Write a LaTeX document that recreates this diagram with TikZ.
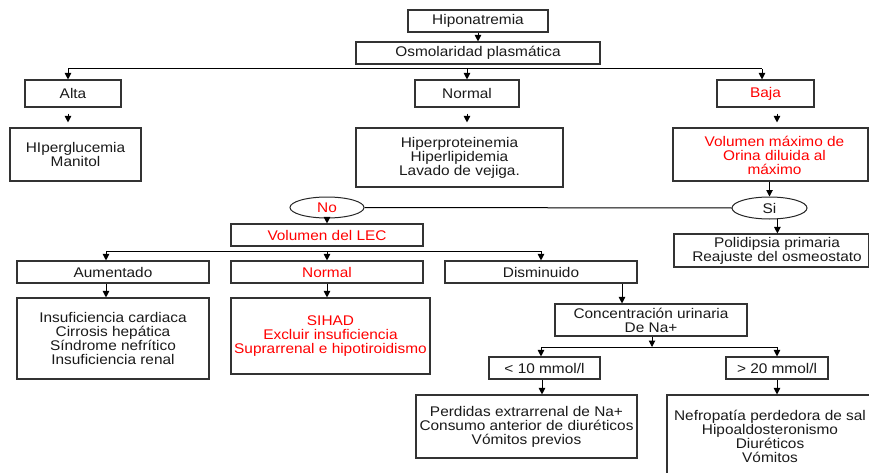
\documentclass[tikz,border=0pt]{standalone}
\usepackage{fontspec}
\setmainfont{Liberation Sans}[FakeStretch=1.1]
\usetikzlibrary{arrows.meta,shapes.geometric}
\definecolor{ink}{HTML}{1A1A1A}
\definecolor{alert}{HTML}{FF0000}
\begin{document}
\begin{tikzpicture}[x=1pt,y=-1pt,
  every node/.style={font=\fontsize{14}{14}\selectfont, text=ink},
  box/.style={draw=black!80, line width=1.1pt, rectangle, inner sep=0pt, align=center},
  oval/.style={draw=black!85, line width=1pt, ellipse, inner sep=0pt},
  link/.style={draw=black, line width=1pt},
  arr/.style={link, -{Triangle[length=6.5pt,width=6.5pt]}},
  hot/.style={text=alert}]
\useasboundingbox (0,0) rectangle (869,473);
\fill[white] (0,0) rectangle (869,473);

% top of the tree
\node[box, minimum width=140pt, minimum height=22pt] (hipo) at (478,21) {Hiponatremia};
\node[box, minimum width=244pt, minimum height=22pt] (osm) at (478,53) {Osmolaridad plasmática};

% plasma osmolarity branches
\node[box, minimum width=96pt, minimum height=27pt] (alta) at (73,93.5) {Alta};
\node[box, minimum width=104pt, minimum height=27pt] (norm) at (467,93.5) {Normal};
\node[box, hot, minimum width=97pt, minimum height=27pt] (baja) at (765.5,93.5) {Baja};

\node[box, minimum width=131pt, minimum height=53pt] (hyper) at (75.5,154.5) {HIperglucemia\\Manitol};
\node[box, minimum width=207pt, minimum height=59pt] (normres) at (459.5,157.5) {Hiperproteinemia\\Hiperlipidemia\\Lavado de vejiga.};
\node[box, minimum width=195pt, minimum height=53pt] (vmax) at (770.5,154.5) {};
\node[hot, align=center, inner sep=0pt] (vmaxtxt) at (774.5,155.5) {Volumen máximo de\\Orina diluida al\\máximo};

% yes / no decision
\node[oval, hot, minimum width=74pt, minimum height=21pt] (no) at (327,207.5) {No};
\node[oval, minimum width=75pt, minimum height=22pt] (si) at (769.5,208) {Si};
\node[box, hot, minimum width=192pt, minimum height=22pt] (lec) at (327,235) {Volumen del LEC};
\node[box, minimum width=195pt, minimum height=33pt] (polid) at (771.5,250.5) {};
\node[align=center, inner sep=0pt] (polidtxt) at (777,250.5) {Polidipsia primaria\\Reajuste del osmeostato};

% extracellular volume branches
\node[box, minimum width=192pt, minimum height=22pt] (aum) at (113,272) {Aumentado};
\node[box, hot, minimum width=192pt, minimum height=22pt] (nor2) at (327,272) {Normal};
\node[box, minimum width=192pt, minimum height=22pt] (dis) at (541,272) {Disminuido};

\node[box, minimum width=192pt, minimum height=81pt] (insuf) at (113,338.5) {Insuficiencia cardiaca\\Cirrosis hepática\\Síndrome nefrítico\\Insuficiencia renal};
\node[box, hot, minimum width=199pt, minimum height=76pt] (sihad) at (330.5,336) {SIHAD\\Excluir insuficiencia\\Suprarrenal e hipotiroidismo};
\node[box, minimum width=192pt, minimum height=32pt] (conc) at (651,320) {Concentración urinaria\\De Na+};

% urinary sodium branches
\node[box, minimum width=111pt, minimum height=22pt] (lt) at (544.5,368) {< 10 mmol/l};
\node[box, minimum width=102pt, minimum height=22pt] (gt) at (777,368) {> 20 mmol/l};
\node[box, minimum width=221pt, minimum height=63pt] (ltres) at (526.5,426.5) {Perdidas extrarrenal de Na+\\Consumo anterior de diuréticos\\Vómitos previos};
\node[box, minimum width=206pt, minimum height=82pt] (gtres) at (770,436) {Nefropatía perdedora de sal\\Hipoaldosteronismo\\Diuréticos\\Vómitos};

% connectors
\draw[arr] (hipo.south) -- (osm.north);
\coordinate (b1l) at (68,69);
\coordinate (b1r) at (762,69);
\draw[link] (b1l) -- (b1r);
\draw[arr] (b1l) -- (b1l |- alta.north);
\draw[arr] (norm.north |- b1l) -- (norm.north);
\draw[arr] (b1r) -- (b1r |- baja.north);

\draw[arr, shorten <=6pt, shorten >=5pt] ([xshift=-5pt]alta.south) -- ([xshift=-5pt]alta.south |- hyper.north);
\draw[arr, shorten <=6pt, shorten >=5pt] (norm.south) -- (norm.south |- normres.north);
\draw[arr, shorten <=6pt, shorten >=5pt] ([xshift=11.5pt]baja.south) -- ([xshift=11.5pt]baja.south |- vmax.north);

\draw[arr] (vmax.south -| si.north) -- (si.north);
\draw[link] (no.east) -- (si.west);
\draw[arr] (no.south) -- (lec.north);
\draw[arr] (si.-55) -- (si.-55 |- polid.north);

\coordinate (b2l) at (106,251);
\coordinate (b2r) at (541,251);
\draw[link] (b2l) -- (b2r);
\draw[arr] (b2l) -- (b2l |- aum.north);
\draw[arr] (lec.south |- b2l) -- (nor2.north);
\draw[arr] (b2r) -- (dis.north);

\draw[arr] ([xshift=-7pt]aum.south) -- ([xshift=-7pt]aum.south |- insuf.north);
\draw[arr] (nor2.south) -- (nor2.south |- sihad.north);
\draw[arr] ([xshift=81pt]dis.south) -- ([xshift=81pt]dis.south |- conc.north);

\coordinate (b3l) at (541,347);
\coordinate (b3r) at (777,347);
\draw[arr] ([xshift=1pt]conc.south) -- ([xshift=1pt]conc.south |- b3l);
\draw[link] (b3l) -- (b3r);
\draw[arr] (b3l) -- (b3l |- lt.north);
\draw[arr] (b3r) -- (gt.north);

\draw[arr] ([xshift=-2.5pt]lt.south) -- ([xshift=-2.5pt]lt.south |- ltres.north);
\draw[arr] (gt.south) -- (gt.south |- gtres.north);
\end{tikzpicture}
\end{document}
